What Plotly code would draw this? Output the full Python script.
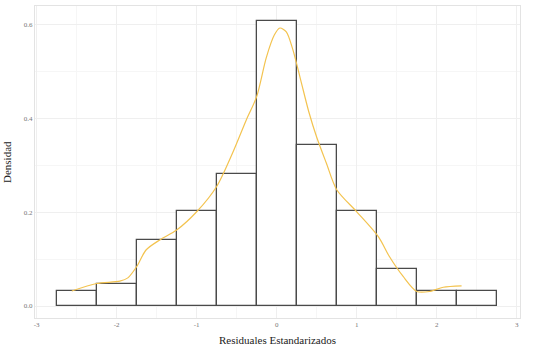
import plotly.graph_objects as go

bin_centers = [-2.5, -2.0, -1.5, -1.0, -0.5, 0.0, 0.5, 1.0, 1.5, 2.0, 2.5]
bin_density = [0.031, 0.047, 0.141, 0.203, 0.281, 0.609, 0.344, 0.203, 0.078, 0.031, 0.031]

kde_x = [-2.56, -2.25, -1.96, -1.86, -1.75, -1.63, -1.46, -1.25, -1.0, -0.75, -0.55, -0.38,
         -0.25, -0.13, -0.03, 0.04, 0.12, 0.2, 0.3, 0.4, 0.5, 0.62, 0.75, 1.0, 1.27, 1.41, 1.58,
         1.75, 1.91, 2.08, 2.31]
kde_y = [0.032, 0.048, 0.053, 0.060, 0.084, 0.120, 0.141, 0.162, 0.201, 0.255, 0.327, 0.397,
         0.447, 0.530, 0.578, 0.593, 0.585, 0.548, 0.482, 0.415, 0.360, 0.305, 0.248, 0.201, 0.148,
         0.105, 0.063, 0.031, 0.031, 0.040, 0.043]

x_ticks = [-3, -2, -1, 0, 1, 2, 3]
y_ticks = [0.0, 0.2, 0.4, 0.6]

fig = go.Figure()
fig.add_trace(go.Bar(x=bin_centers, y=bin_density, width=0.5,
                     marker=dict(color="white", line=dict(color="#4a4a4a", width=1.3)),
                     showlegend=False))
fig.add_trace(go.Scatter(x=kde_x, y=kde_y, mode="lines",
                         line=dict(color="#F3C34F", width=1.2, shape="spline", smoothing=0.8),
                         showlegend=False))

fig.update_layout(
    width=533, height=347,
    margin=dict(l=35, r=13, t=6, b=29, autoexpand=False),
    plot_bgcolor="white", paper_bgcolor="white",
    bargap=0,
    font=dict(family="Liberation Serif", color="#222"),
    annotations=[
        dict(text="Residuales Estandarizados", xref="paper", yref="paper", x=0.5, y=0,
             yshift=-14, xanchor="center", yanchor="top", showarrow=False,
             font=dict(size=11, color="#222")),
        dict(text="Densidad", xref="paper", yref="paper", x=0, y=0.5, xshift=-20,
             xanchor="right", yanchor="middle", textangle=-90, showarrow=False,
             font=dict(size=11, color="#222")),
    ],
)
fig.update_xaxes(range=[-3.02, 3.04], tickvals=x_ticks, ticktext=[str(v) for v in x_ticks],
                 tickfont=dict(size=7, color="#777"), automargin=False,
                 showgrid=True, gridcolor="#efefef", gridwidth=1,
                 minor=dict(dtick=0.5, tick0=0, showgrid=True, gridcolor="#f6f6f6"),
                 zeroline=False, showline=True, linecolor="#e3e3e3", mirror=True, linewidth=1)
fig.update_yaxes(range=[-0.0256, 0.64], tickvals=y_ticks, ticktext=["0.0", "0.2", "0.4", "0.6"],
                 tickfont=dict(size=7, color="#777"), automargin=False,
                 showgrid=True, gridcolor="#efefef", gridwidth=1,
                 minor=dict(dtick=0.1, tick0=0, showgrid=True, gridcolor="#f6f6f6"),
                 zeroline=False, showline=True, linecolor="#e3e3e3", mirror=True, linewidth=1)

fig.write_html("out.html", config={"displayModeBar": False},
               post_script="document.body.style.margin='0';document.body.style.overflow='hidden';")
